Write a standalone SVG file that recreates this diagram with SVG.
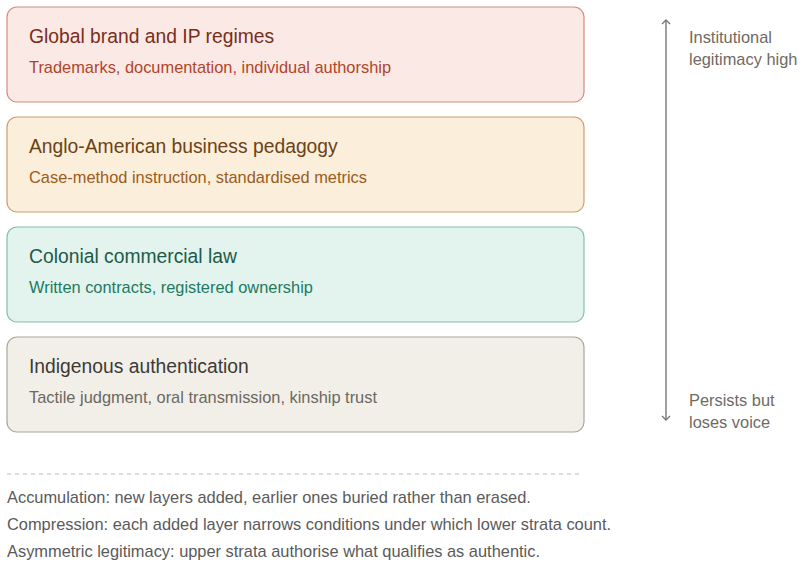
<svg xmlns="http://www.w3.org/2000/svg" width="800" height="566" viewBox="0 0 800 566">
  <defs>
    <marker id="tip" viewBox="0 0 10 10" refX="5" refY="5" markerWidth="10" markerHeight="10" orient="auto-start-reverse" markerUnits="userSpaceOnUse">
      <path d="M1,1 L5,5 L1,9" fill="none" stroke="#777" stroke-width="1.4"/>
    </marker>
  </defs>
  <style>
    text { font-family: "Liberation Sans", Arial, sans-serif; }
    .title { font-size: 19.3px; }
    .sub { font-size: 16.4px; }
    .side { font-size: 16.4px; fill: #6f6a64; }
    .note { font-size: 16.4px; fill: #5a5a5a; }
    .box { stroke-width: 1.2; }
  </style>
  <rect width="800" height="566" fill="#ffffff"/>

  <g id="layer-global">
    <rect class="box" x="7" y="7" width="577" height="95" rx="10" fill="#fbe9e6" stroke="#d58c7c"/>
    <text class="title" x="29" y="43" fill="#7a2d1a">Global brand and IP regimes</text>
    <text class="sub" x="29" y="73" fill="#b0452a">Trademarks, documentation, individual authorship</text>
  </g>
  <g id="layer-pedagogy">
    <rect class="box" x="7" y="117" width="577" height="95" rx="10" fill="#fbeedb" stroke="#caa070"/>
    <text class="title" x="29" y="153" fill="#6b4215">Anglo-American business pedagogy</text>
    <text class="sub" x="29" y="183" fill="#9a5c1c">Case-method instruction, standardised metrics</text>
  </g>
  <g id="layer-colonial">
    <rect class="box" x="7" y="227" width="577" height="95" rx="10" fill="#e3f3ee" stroke="#80c1ab"/>
    <text class="title" x="29" y="263" fill="#1e5a48">Colonial commercial law</text>
    <text class="sub" x="29" y="293" fill="#1f7a5e">Written contracts, registered ownership</text>
  </g>
  <g id="layer-indigenous">
    <rect class="box" x="7" y="337" width="577" height="95" rx="10" fill="#f2efe8" stroke="#aba69d"/>
    <text class="title" x="29" y="373" fill="#3c3a36">Indigenous authentication</text>
    <text class="sub" x="29" y="403" fill="#6b6862">Tactile judgment, oral transmission, kinship trust</text>
  </g>

  <g id="connectors">
    <line x1="666" y1="20" x2="666" y2="420" stroke="#777" stroke-width="1.4" marker-start="url(#tip)" marker-end="url(#tip)"/>
  </g>

  <g id="axis-labels">
    <text class="side" x="689" y="43">Institutional</text>
    <text class="side" x="689" y="65">legitimacy high</text>
    <text class="side" x="689" y="406">Persists but</text>
    <text class="side" x="689" y="428">loses voice</text>
  </g>

  <g id="notes">
    <line x1="7" y1="474" x2="581" y2="474" stroke="#bbbbbb" stroke-width="1" stroke-dasharray="4 4"/>
    <text class="note" x="7" y="503">Accumulation: new layers added, earlier ones buried rather than erased.</text>
    <text class="note" x="7" y="530">Compression: each added layer narrows conditions under which lower strata count.</text>
    <text class="note" x="7" y="557">Asymmetric legitimacy: upper strata authorise what qualifies as authentic.</text>
  </g>
</svg>
